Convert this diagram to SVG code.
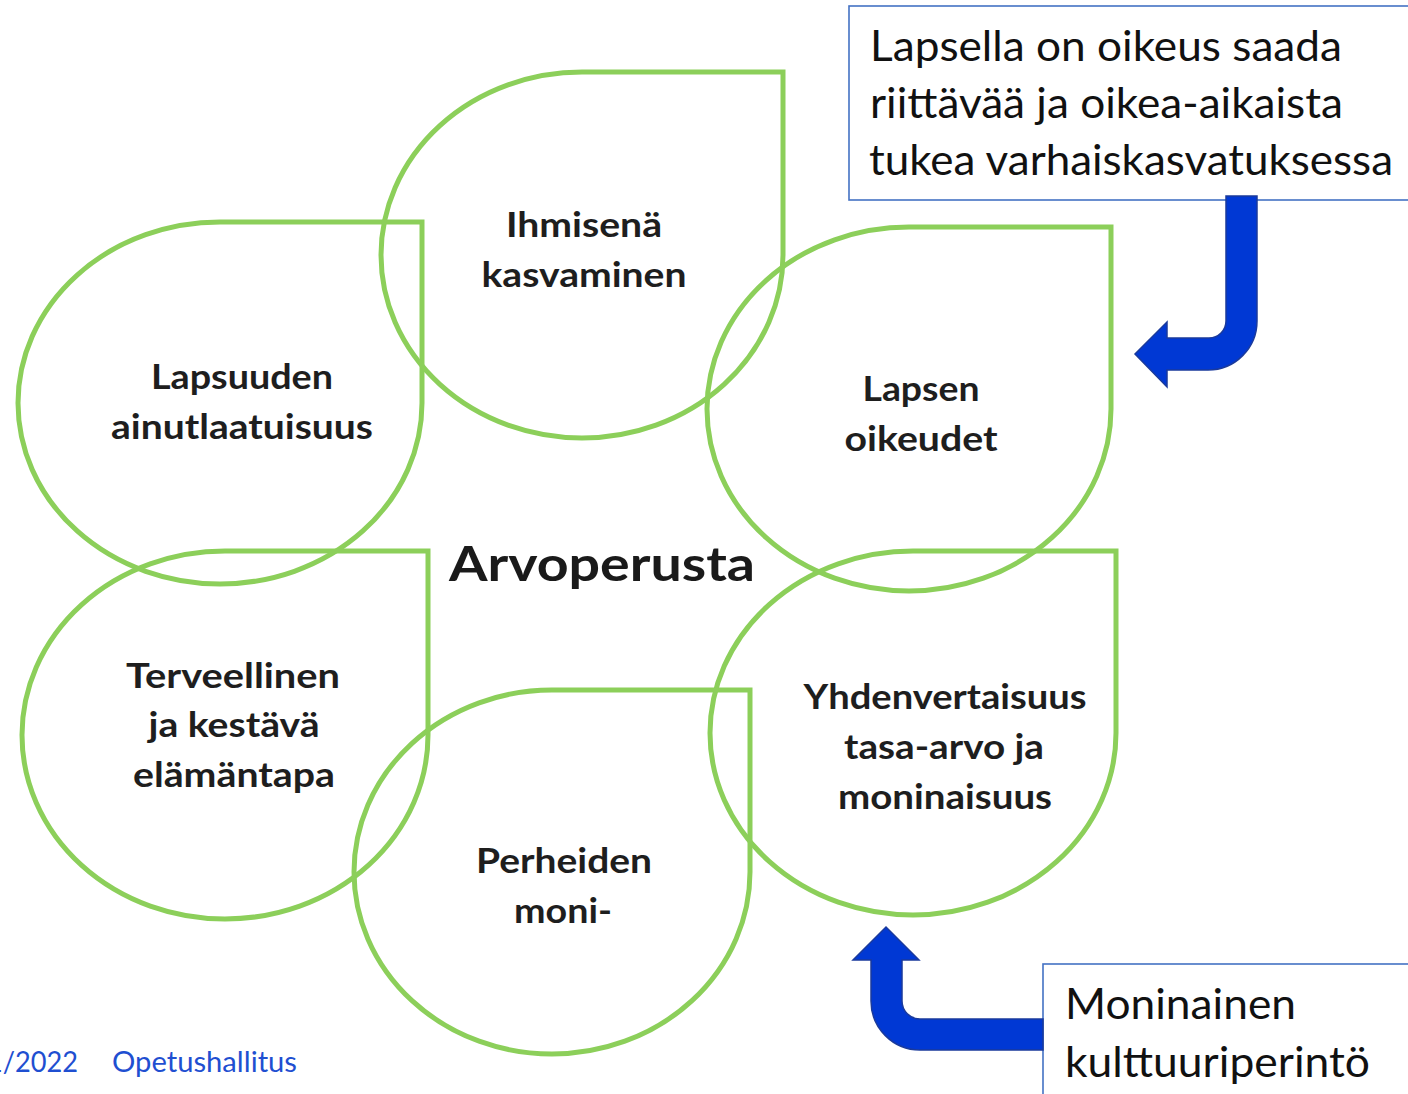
<svg xmlns="http://www.w3.org/2000/svg" width="1408" height="1094" viewBox="0 0 1408 1094">
<style>
.drop{fill:none;stroke:#8CCF5A;stroke-width:5}
.lbl{font-family:Lato,"Open Sans","Liberation Sans",sans-serif;font-weight:bold;font-size:35px;fill:#1e1e1e;text-anchor:middle}
.title{font-family:Lato,"Open Sans","Liberation Sans",sans-serif;font-weight:bold;font-size:47px;fill:#1a1a1a;text-anchor:middle}
.call{fill:#ffffff;stroke:#4472C4;stroke-width:1.6}
.ctext{font-family:Lato,"Open Sans","Liberation Sans",sans-serif;font-size:42px;fill:#111111}
.foot{font-family:Lato,"Open Sans","Liberation Sans",sans-serif;font-size:28px;fill:#1F4FD1}
.arrow{fill:#0038D4;stroke:#1A3A9C;stroke-width:1.5;stroke-linejoin:miter}
</style>
<rect width="1408" height="1094" fill="#ffffff"/>

<g id="node-lapsuuden">
<path class="drop" d="M220 222 L422 222 L422 403 A202 181 0 1 1 220 222 Z"/>
<text class="lbl" x="242" y="389" textLength="182" lengthAdjust="spacingAndGlyphs">Lapsuuden</text>
<text class="lbl" x="242" y="439" textLength="262" lengthAdjust="spacingAndGlyphs">ainutlaatuisuus</text>
</g>

<g id="node-ihmisena">
<path class="drop" d="M582 72 L783 72 L783 255 A201 183 0 1 1 582 72 Z"/>
<text class="lbl" x="584" y="237" textLength="156" lengthAdjust="spacingAndGlyphs">Ihmisenä</text>
<text class="lbl" x="584" y="287" textLength="205" lengthAdjust="spacingAndGlyphs">kasvaminen</text>
</g>

<g id="node-lapsen-oikeudet">
<path class="drop" d="M909 227 L1111 227 L1111 409 A202 182 0 1 1 909 227 Z"/>
<text class="lbl" x="921" y="401" textLength="117" lengthAdjust="spacingAndGlyphs">Lapsen</text>
<text class="lbl" x="921" y="451" textLength="153" lengthAdjust="spacingAndGlyphs">oikeudet</text>
</g>

<g id="node-terveellinen">
<path class="drop" d="M225 551 L428 551 L428 735 A203 184 0 1 1 225 551 Z"/>
<text class="lbl" x="233" y="688" textLength="214" lengthAdjust="spacingAndGlyphs">Terveellinen</text>
<text class="lbl" x="234" y="737" textLength="171" lengthAdjust="spacingAndGlyphs">ja kestävä</text>
<text class="lbl" x="234" y="787" textLength="202" lengthAdjust="spacingAndGlyphs">elämäntapa</text>
</g>

<g id="node-perheiden">
<path class="drop" d="M552 690 L750 690 L750 872 A198 182 0 1 1 552 690 Z"/>
<text class="lbl" x="564" y="873" textLength="176" lengthAdjust="spacingAndGlyphs">Perheiden</text>
<text class="lbl" x="563" y="923" textLength="98" lengthAdjust="spacingAndGlyphs">moni-</text>
</g>

<g id="node-yhdenvertaisuus">
<path class="drop" d="M913 551 L1116 551 L1116 733 A203 182 0 1 1 913 551 Z"/>
<text class="lbl" x="945" y="709" textLength="283" lengthAdjust="spacingAndGlyphs">Yhdenvertaisuus</text>
<text class="lbl" x="944" y="759" textLength="200" lengthAdjust="spacingAndGlyphs">tasa-arvo ja</text>
<text class="lbl" x="945" y="809" textLength="214" lengthAdjust="spacingAndGlyphs">moninaisuus</text>
</g>

<g id="title-arvoperusta">
<text class="title" x="602" y="581" textLength="306" lengthAdjust="spacingAndGlyphs">Arvoperusta</text>
</g>

<g id="callout-tuki">
<rect class="call" x="849" y="6" width="580" height="194"/>
<text class="ctext" x="870" y="61" textLength="472" lengthAdjust="spacingAndGlyphs">Lapsella on oikeus saada</text>
<text class="ctext" x="870" y="118" textLength="473" lengthAdjust="spacingAndGlyphs">riittävää ja oikea-aikaista</text>
<text class="ctext" x="869" y="175" textLength="524" lengthAdjust="spacingAndGlyphs">tukea varhaiskasvatuksessa</text>
</g>

<g id="callout-kulttuuri">
<rect class="call" x="1043" y="964" width="400" height="160"/>
<text class="ctext" x="1065" y="1019" textLength="231" lengthAdjust="spacingAndGlyphs">Moninainen</text>
<text class="ctext" x="1065" y="1077" textLength="305" lengthAdjust="spacingAndGlyphs">kulttuuriperintö</text>
</g>

<g id="connectors">
<path class="arrow" d="M1226 196 L1257 196 L1257 321 A49 49 0 0 1 1208 370 L1167 370 L1167 387 L1135 354 L1167 322 L1167 338 L1209 338 A17 17 0 0 0 1226 321 Z"/>
<path class="arrow" d="M1043 1019 L920 1019 A18 18 0 0 1 902 1001 L902 960 L919 960 L886 927 L853 960 L871 960 L871 1001 A49 49 0 0 0 920 1050 L1043 1050 Z"/>
</g>

<g id="footer">
<text class="foot" x="-13" y="1072" textLength="91" lengthAdjust="spacingAndGlyphs">1/2022</text>
<text class="foot" x="112" y="1072" textLength="185" lengthAdjust="spacingAndGlyphs">Opetushallitus</text>
</g>
</svg>
